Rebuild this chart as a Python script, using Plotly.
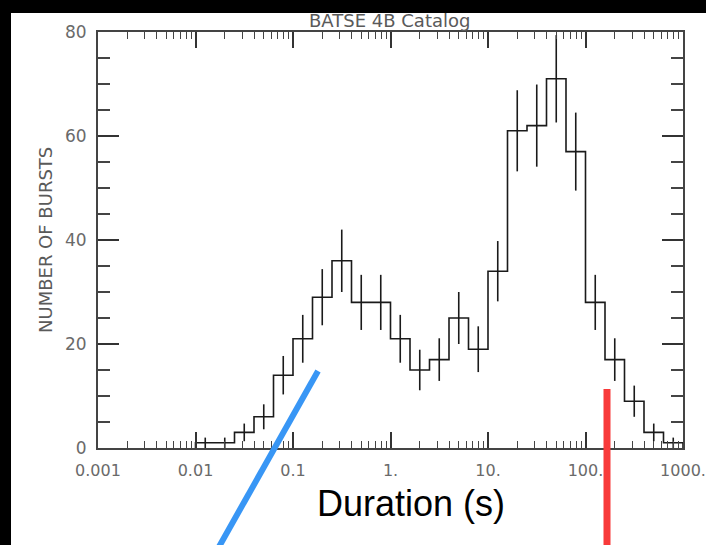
import plotly.graph_objects as go

# ---- data ----
bin_edges_log = [-2.0, -1.8, -1.6, -1.4, -1.2, -1.0, -0.8, -0.6, -0.4, -0.2,
                 0.0, 0.2, 0.4, 0.6, 0.8, 1.0, 1.2, 1.4, 1.6, 1.8,
                 2.0, 2.2, 2.4, 2.6, 2.8, 3.0]
counts = [1, 1, 3, 6, 14, 21, 29, 36, 28, 28,
          21, 15, 17, 25, 19, 34, 61, 62, 71, 57,
          28, 17, 9, 3, 1]
errors = [1.0, 1.0, 1.7, 2.4, 3.7, 4.6, 5.4, 6.0, 5.3, 5.3,
          4.6, 3.9, 4.1, 5.0, 4.4, 5.8, 7.8, 7.9, 8.4, 7.5,
          5.3, 4.1, 3.0, 1.7, 1.0]
x_tickvals = [0.001, 0.01, 0.1, 1, 10, 100, 1000]
x_ticktext = ["0.001", "0.01", "0.1", "1.", "10.", "100.", "1000."]
y_tickvals = [0, 20, 40, 60, 80]

# ---- layout geometry ----
W, H = 706, 545
L, R, T, B = 98, 683, 32, 448


def px(x):
    return (x - L) / (R - L)


def py(y):
    return (B - y) / (B - T)


edges = [10 ** e for e in bin_edges_log]
centers = [10 ** ((bin_edges_log[i] + bin_edges_log[i + 1]) / 2) for i in range(len(counts))]

step_x = [edges[0]] + edges[:-1] + [edges[-1]]
step_y = [0] + counts + [0]

fig = go.Figure()
fig.add_trace(go.Scatter(
    x=step_x, y=step_y, mode="lines", line=dict(color="#1a1a1a", width=1.6, shape="hv"),
    hoverinfo="skip", showlegend=False, cliponaxis=False))
fig.add_trace(go.Scatter(
    x=centers, y=counts, mode="markers", marker=dict(size=1, opacity=0),
    error_y=dict(type="data", array=errors, thickness=1.6, width=0, color="#1a1a1a"),
    showlegend=False, hoverinfo="skip"))

minor_x = [k * 10 ** d for d in range(-3, 3) for k in range(2, 10)]
gray = "#5a5a5a"
xtickfont = dict(family="DejaVu Sans", size=16, color="#6a6a6a")
ytickfont = dict(family="DejaVu Sans", size=17, color="#6a6a6a")

fig.update_xaxes(
    type="log", range=[-3, 3], showgrid=False, zeroline=False, automargin=False,
    showline=True, linecolor="#444", linewidth=2, mirror="ticks",
    ticks="inside", ticklen=16, tickwidth=1.6, tickcolor="#333",
    tickvals=x_tickvals, ticktext=x_ticktext, tickfont=xtickfont,
    ticklabelstandoff=7,
    minor=dict(tickvals=minor_x, ticks="inside", ticklen=7, tickwidth=1.2,
               tickcolor="#444", showgrid=False))
fig.update_yaxes(
    range=[0, 80], showgrid=False, zeroline=False, automargin=False,
    showline=True, linecolor="#444", linewidth=2, mirror="ticks",
    ticks="inside", ticklen=21, tickwidth=2, tickcolor="#333",
    tickvals=y_tickvals, tickfont=ytickfont, ticklabelstandoff=6,
    minor=dict(dtick=5, ticks="inside", ticklen=12, tickwidth=1.6,
               tickcolor="#444", showgrid=False))

shapes = [
    # black frame strips
    dict(type="rect", xref="paper", yref="paper", x0=px(-10), x1=px(11),
         y0=py(560), y1=py(-10), fillcolor="black", line=dict(width=0), layer="above"),
    dict(type="rect", xref="paper", yref="paper", x0=px(-10), x1=px(716),
         y0=py(13), y1=py(-10), fillcolor="black", line=dict(width=0), layer="above"),
    # blue and red overlay lines
    dict(type="line", xref="paper", yref="paper", x0=px(318), y0=py(371),
         x1=px(189), y1=py(600), line=dict(color="#3896F5", width=6), layer="above"),
    dict(type="line", xref="paper", yref="paper", x0=px(607), y0=py(389),
         x1=px(607), y1=py(600), line=dict(color="#F83A3A", width=7), layer="above"),
]

annotations = [
    dict(text="BATSE 4B Catalog", xref="paper", yref="paper", x=px(389), y=py(21),
         xanchor="center", yanchor="middle", showarrow=False,
         font=dict(family="DejaVu Sans", size=18, color=gray)),
    dict(text="NUMBER OF BURSTS", xref="paper", yref="paper", x=px(45), y=py(240),
         xanchor="center", yanchor="middle", showarrow=False, textangle=-90,
         font=dict(family="DejaVu Sans", size=18, color=gray)),
    dict(text="Duration (s)", xref="paper", yref="paper", x=px(411), y=py(503),
         xanchor="center", yanchor="middle", showarrow=False,
         font=dict(family="Liberation Sans, Arial", size=36, color="black")),
]

fig.update_layout(
    width=W, height=H,
    margin=dict(l=L, r=W - R, t=T, b=H - B, pad=0, autoexpand=False),
    paper_bgcolor="white", plot_bgcolor="white",
    shapes=shapes, annotations=annotations, showlegend=False)

fig.write_html("out.html")
